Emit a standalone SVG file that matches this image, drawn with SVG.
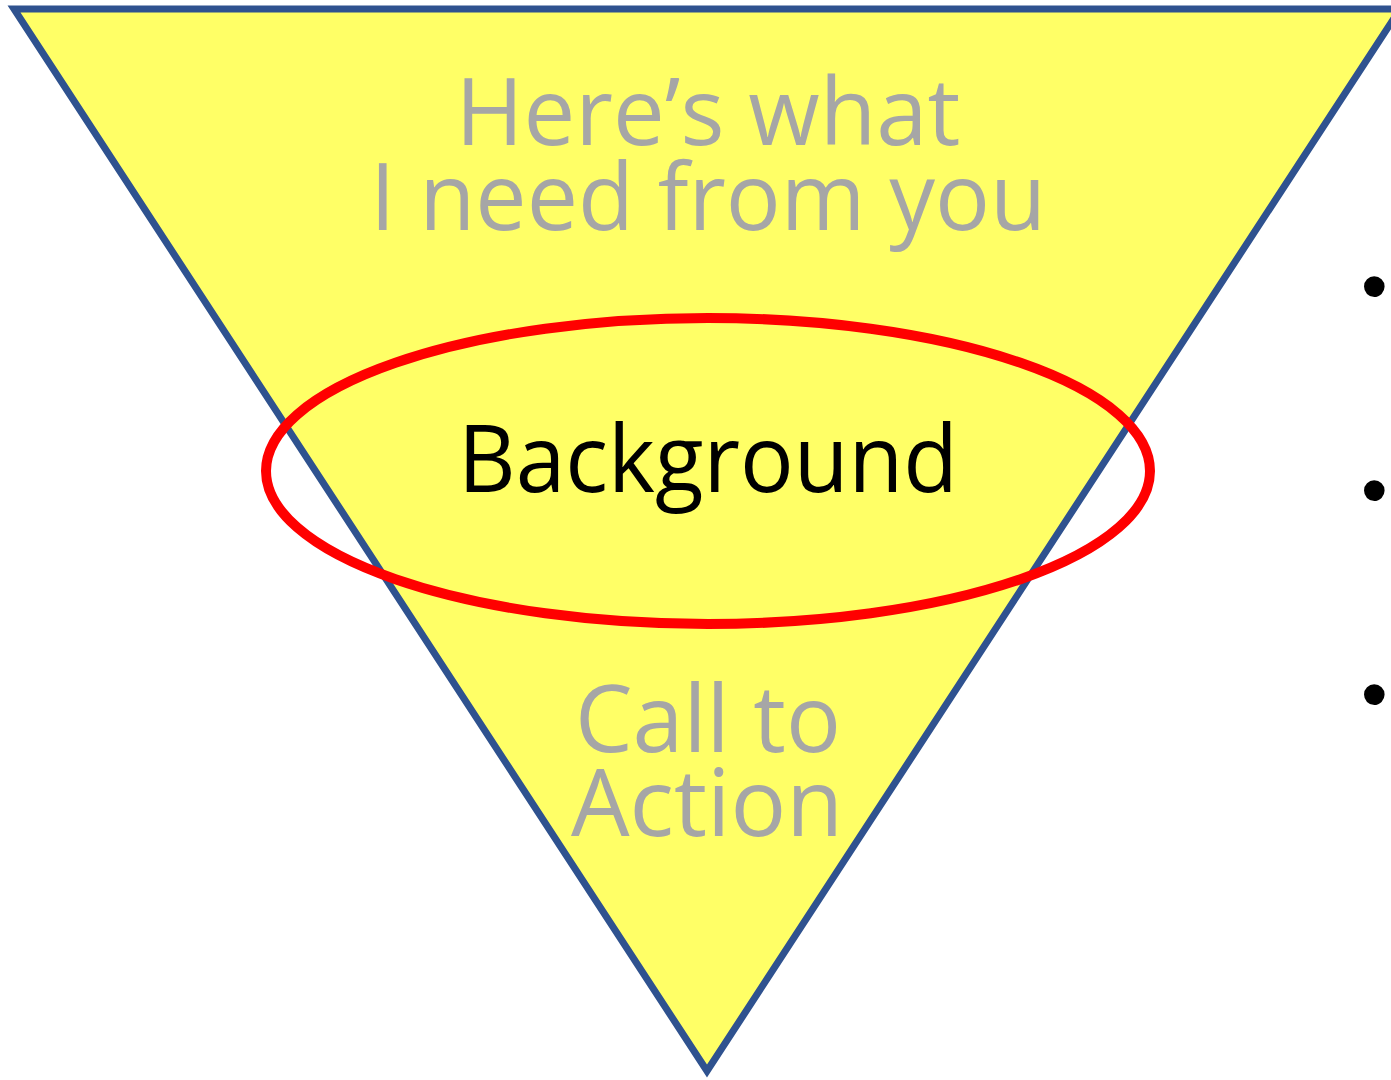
<svg xmlns="http://www.w3.org/2000/svg" width="1391" height="1080" viewBox="0 0 1391 1080">
<style>
.t{font-family:"Open Sans","Liberation Sans",sans-serif;text-anchor:middle;font-size:94px}
.g{fill:#A6A6A6}
.k{fill:#000000}
.b{font-family:"Liberation Sans",Arial,sans-serif;font-size:76px;fill:#000}
</style>
<rect width="1391" height="1080" fill="#FFFFFF"/>
<g id="funnel">
<polygon points="14,9 1400,9 707,1071" fill="#FFFF66" stroke="#2F528F" stroke-width="7" stroke-linejoin="miter"/>
</g>
<g id="top-label">
<text class="t g" x="708" y="145" textLength="505" lengthAdjust="spacingAndGlyphs">Here’s what</text>
<text class="t g" x="708" y="230" textLength="676" lengthAdjust="spacingAndGlyphs">I need from you</text>
</g>
<g id="background">
<ellipse cx="708" cy="471" rx="442" ry="153" fill="none" stroke="#FF0000" stroke-width="10"/>
<text class="t k" x="708" y="492" textLength="500" lengthAdjust="spacingAndGlyphs">Background</text>
</g>
<g id="call-to-action">
<text class="t g" x="708" y="752" textLength="266" lengthAdjust="spacingAndGlyphs">Call to</text>
<text class="t g" x="707" y="836" textLength="272" lengthAdjust="spacingAndGlyphs">Action</text>
</g>
<g id="bullets">
<text class="b" x="1361" y="312">•</text>
<text class="b" x="1361" y="516">•</text>
<text class="b" x="1361" y="720">•</text>
</g>
<g id="connectors"></g>
</svg>
